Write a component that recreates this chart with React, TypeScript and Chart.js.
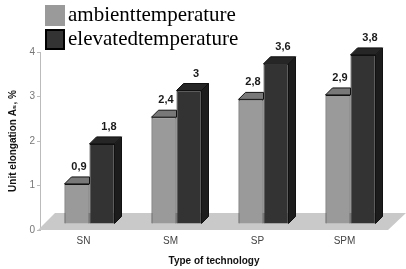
import React, { useEffect, useRef } from 'react';
import { Chart, registerables } from 'chart.js';

Chart.register(...registerables);

const categories = ['SN', 'SM', 'SP', 'SPM'];
const ambientValues = [0.9, 2.4, 2.8, 2.9];
const elevatedValues = [1.8, 3.0, 3.6, 3.8];
const seriesNames = ['ambienttemperature', 'elevatedtemperature'];
const yMin = 0;
const yMax = 4;
const yStep = 1;

const frontColors = ['#9a9a9a', '#333333'];
const topColors = ['#787878', '#262626'];
const sideColor = '#1c1c1c';

const DX = 6;
const DY = -6;
const DEPTH = 7;

const fmt = (v: number) => String(v).replace('.', ',');

const threeD = {
  id: 'threeD',
  beforeDatasetsDraw(chart: any) {
    const { ctx, chartArea, scales } = chart;
    const y0 = scales.y.getPixelForValue(0);
    ctx.save();
    ctx.fillStyle = '#c9c9c9';
    ctx.beginPath();
    ctx.moveTo(chartArea.left - 2, y0);
    ctx.lineTo(chartArea.right, y0);
    ctx.lineTo(chartArea.right + 18, y0 - 17);
    ctx.lineTo(chartArea.left + 15, y0 - 17);
    ctx.closePath();
    ctx.fill();
    ctx.restore();
    ctx.save();
    ctx.translate(DX, DY);
  },
  afterDatasetsDraw(chart: any) {
    const ctx = chart.ctx;
    ctx.restore();
    ctx.save();
    ctx.lineWidth = 1;
    ctx.strokeStyle = '#111';
    const poly = (pts: number[][], fill: string) => {
      ctx.beginPath();
      ctx.moveTo(pts[0][0], pts[0][1]);
      for (let i = 1; i < pts.length; i++) ctx.lineTo(pts[i][0], pts[i][1]);
      ctx.closePath();
      ctx.fillStyle = fill;
      ctx.fill();
      ctx.stroke();
    };
    chart.data.datasets.forEach((ds: any, di: number) => {
      const meta = chart.getDatasetMeta(di);
      meta.data.forEach((el: any) => {
        const { x, y, base, width } = el.getProps(['x', 'y', 'base', 'width'], true);
        const l = x - width / 2 + DX;
        const r = x + width / 2 + DX;
        const t = y + DY;
        const b = base + DY;
        if (di === 0) {
          poly([[l, t], [l + DEPTH, t - DEPTH], [r, t - DEPTH], [r, t]], topColors[0]);
        } else {
          poly([[r, t], [r + DEPTH, t - DEPTH], [r + DEPTH, b - DEPTH], [r, b]], sideColor);
          poly([[l, t], [l + DEPTH, t - DEPTH], [r + DEPTH, t - DEPTH], [r, t]], topColors[1]);
        }
      });
    });
    ctx.fillStyle = '#1a1a1a';
    ctx.font = 'bold 11px "Liberation Sans", Arial, sans-serif';
    ctx.textAlign = 'center';
    ctx.textBaseline = 'middle';
    chart.data.datasets.forEach((ds: any, di: number) => {
      const meta = chart.getDatasetMeta(di);
      meta.data.forEach((el: any, j: number) => {
        const { x, y } = el.getProps(['x', 'y'], true);
        const cx = x + DX + (di === 0 ? 2 : 7);
        const cy = y + DY - DEPTH - 10;
        ctx.fillText(fmt(ds.data[j]), cx, cy);
      });
    });
    ctx.restore();
  },
  afterDraw(chart: any) {
    const ctx = chart.ctx;
    ctx.save();
    const rows = [
      { y: 5, fill: frontColors[0], stroke: null as string | null, baseline: 21 },
      { y: 29, fill: frontColors[1], stroke: '#000', baseline: 45 },
    ];
    ctx.font = '21px "Liberation Serif", "Times New Roman", serif';
    ctx.textAlign = 'left';
    ctx.textBaseline = 'alphabetic';
    rows.forEach((row, i) => {
      ctx.fillStyle = row.fill;
      ctx.fillRect(45, row.y, 20, 21);
      if (row.stroke) {
        ctx.strokeStyle = row.stroke;
        ctx.lineWidth = 2;
        ctx.strokeRect(46, row.y + 1, 18, 19);
      }
      ctx.fillStyle = '#000';
      ctx.fillText(seriesNames[i], 68, row.baseline);
    });
    ctx.restore();
  },
};

export default function App() {
  const ref = useRef<HTMLCanvasElement | null>(null);
  useEffect(() => {
    if (!ref.current) return;
    const chart = new Chart(ref.current, {
      type: 'bar',
      data: {
        labels: categories,
        datasets: [
          {
            label: seriesNames[0],
            data: ambientValues,
            backgroundColor: frontColors[0],
            borderColor: '#111',
            borderWidth: 1,
            barPercentage: 1,
            categoryPercentage: 0.575,
            clip: false as any,
          },
          {
            label: seriesNames[1],
            data: elevatedValues,
            backgroundColor: frontColors[1],
            borderColor: '#111',
            borderWidth: 1,
            barPercentage: 1,
            categoryPercentage: 0.575,
            clip: false as any,
          },
        ],
      },
      options: {
        animation: false,
        responsive: false,
        devicePixelRatio: 1,
        layout: { padding: { top: 52, right: 18, left: 0, bottom: 0 } },
        plugins: {
          legend: { display: false },
          tooltip: { enabled: false },
        },
        scales: {
          x: {
            grid: { display: false, drawTicks: false },
            border: { display: false },
            ticks: {
              color: '#444',
              padding: 5,
              font: { family: '"Liberation Sans", Arial, sans-serif', size: 10 },
            },
            title: {
              display: true,
              text: 'Type of technology',
              color: '#111',
              padding: { top: 0, bottom: 2 },
              font: { family: '"Liberation Sans", Arial, sans-serif', size: 10, weight: 'bold' },
            },
            afterFit: (s: any) => { s.height = 39; },
          },
          y: {
            min: yMin,
            max: yMax,
            ticks: {
              stepSize: yStep,
              color: '#777',
              padding: 2,
              font: { family: '"Liberation Sans", Arial, sans-serif', size: 10 },
            },
            grid: { drawOnChartArea: false, drawTicks: true, tickLength: 3, color: '#bbb' },
            border: { color: '#bbb' },
            title: {
              display: true,
              text: 'Unit elongation A₅, %',
              color: '#111',
              padding: { top: 7, bottom: 0 },
              font: { family: '"Liberation Sans", Arial, sans-serif', size: 10, weight: 'bold' },
            },
            afterFit: (s: any) => { s.width = 40; },
          },
        },
      },
      plugins: [threeD],
    });
    return () => chart.destroy();
  }, []);
  return (
    <div style={{ position: 'fixed', left: 0, top: 0, width: 406, height: 269, background: '#fff' }}>
      <canvas ref={ref} width={406} height={269} style={{ display: 'block' }} />
    </div>
  );
}
